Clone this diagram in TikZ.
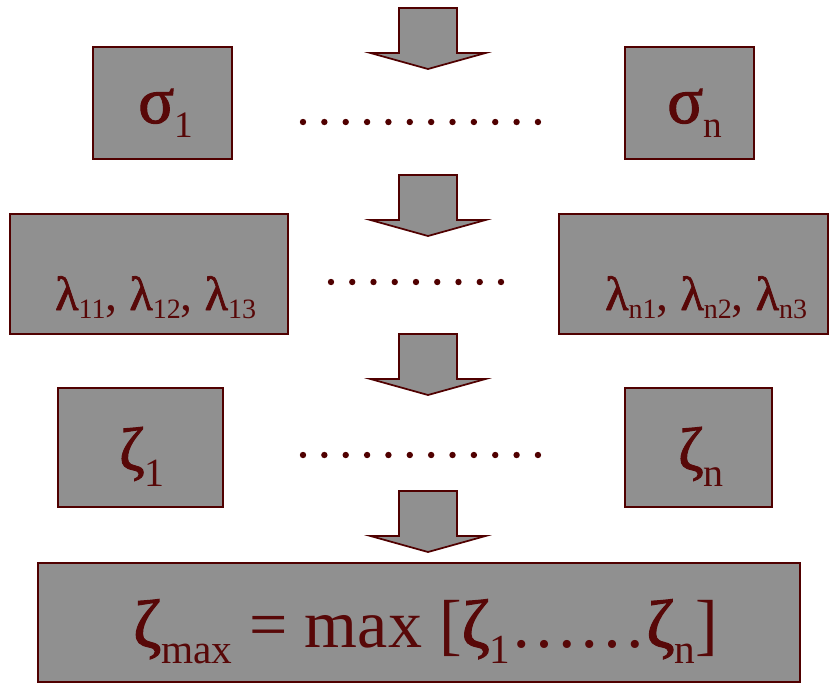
\documentclass[tikz,border=0pt]{standalone}
\usepackage{fontspec}
\setmainfont{Liberation Serif}
\newfontfamily\gk{Liberation Serif}[FakeBold=1.6]
\definecolor{boxfill}{RGB}{144,144,144}
\definecolor{boxline}{RGB}{80,0,0}
\definecolor{txt}{RGB}{88,8,8}
\newcommand\Sz[2]{\fontsize{#1}{#1}\selectfont #2}
\newcommand\Gk[2]{{\gk\fontsize{#1}{#1}\selectfont #2}}
\newcommand\Sb[3]{\raisebox{-#2}{\fontsize{#1}{#1}\selectfont #3}}
\tikzset{
  x=0.75pt, y=-0.75pt,
  box/.style={draw=boxline, line width=1.6pt, fill=boxfill, rectangle, inner sep=0pt},
  lbl/.style={text=txt, inner sep=0pt, anchor=base west},
  dotrow/.style={fill=boxline},
  arrowshape/.style={draw=boxline, line width=1.3pt, fill=boxfill, line join=miter},
  blockarrow/.pic={\draw[arrowshape] (-29,0) -- (29,0) -- (29,45) -- (57.5,45) -- (0,61) -- (-57.5,45) -- (-29,45) -- cycle;}
}
\begin{document}
\begin{tikzpicture}
\useasboundingbox (0,0) rectangle (829,683);
% arrows
\pic (a1) at (428,8) {blockarrow};
\pic (a2) at (428,175) {blockarrow};
\pic (a3) at (428,334) {blockarrow};
\pic (a4) at (428,491) {blockarrow};
% boxes
\node[box, minimum width=139*0.75pt, minimum height=112*0.75pt] (s1) at (162.5,103) {};
\node[box, minimum width=129*0.75pt, minimum height=112*0.75pt] (sn) at (689.5,103) {};
\node[box, minimum width=278*0.75pt, minimum height=120*0.75pt] (l1) at (149,274) {};
\node[box, minimum width=269*0.75pt, minimum height=120*0.75pt] (ln) at (693.5,274) {};
\node[box, minimum width=165*0.75pt, minimum height=119*0.75pt] (z1) at (140.5,447.5) {};
\node[box, minimum width=147*0.75pt, minimum height=119*0.75pt] (zn) at (698.5,447.5) {};
\node[box, minimum width=762*0.75pt, minimum height=119*0.75pt] (zm) at (419,622.5) {};
% texts
\node[lbl] (ts1) at (138,123) {\Gk{50pt}{σ}\Sb{28pt}{11pt}{1}};
\node[lbl] (tsn) at (667,123) {\Gk{50pt}{σ}\Sb{28pt}{11pt}{n}};
\node[lbl] (tl1) at (55,310) {\Gk{36pt}{λ}\Sb{21pt}{6pt}{11}\Sz{36pt}{, }\Gk{36pt}{λ}\Sb{21pt}{6pt}{12}\Sz{36pt}{, }\Gk{36pt}{λ}\Sb{21pt}{6pt}{13}};
\node[lbl] (tln) at (605,310) {\Gk{36pt}{λ}\Sb{21pt}{6pt}{n1}\Sz{36pt}{, }\Gk{36pt}{λ}\Sb{21pt}{6pt}{n2}\Sz{36pt}{, }\Gk{36pt}{λ}\Sb{21pt}{6pt}{n3}};
\node[lbl] (tz1) at (119,470) {\Gk{46pt}{ζ}\Sb{30pt}{12pt}{1}};
\node[lbl] (tzn) at (678,470) {\Gk{46pt}{ζ}\Sb{30pt}{12pt}{n}};
\node[lbl] (tzm) at (133,647) {\Gk{51pt}{ζ}\Sb{31pt}{12pt}{max}\Sz{51pt}{ = max [}\Gk{51pt}{ζ}\Sb{31pt}{12pt}{1}\Sz{51pt}{……}\Gk{51pt}{ζ}\Sb{31pt}{12pt}{n}\Sz{51pt}{]}};
% dots
\foreach \i in {0,...,11} \fill[dotrow] (303+\i*21.36,122) circle (3.2);
\foreach \i in {0,...,8} \fill[dotrow] (331+\i*21.25,282) circle (3.2);
\foreach \i in {0,...,11} \fill[dotrow] (303+\i*21.36,455) circle (3.2);
\end{tikzpicture}
\end{document}
